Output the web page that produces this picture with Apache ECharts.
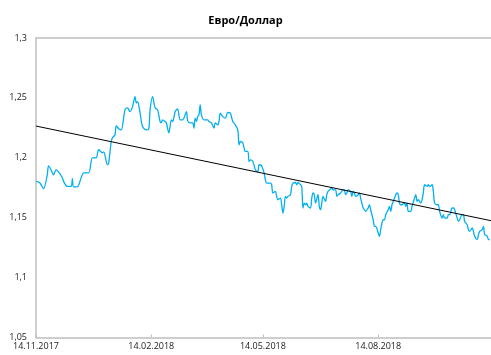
<!DOCTYPE html>
<html>
<head>
<meta charset="utf-8">
<script src="https://cdn.jsdelivr.net/npm/echarts@6/dist/echarts.min.js"></script>
<style>
  html, body { margin: 0; padding: 0; background: #fff; }
  #chart { width: 491px; height: 355px; }
</style>
</head>
<body>
<div id="chart"></div>
<script>
// EUR/USD daily rate, days counted from 14.11.2017
const startDate = new Date(2017, 10, 14);
const dayOffsets = [
  0, 3, 6, 9, 10, 12, 14, 16, 18, 21, 22, 25, 28, 29, 30, 33, 36, 38, 42, 45,
  48, 50, 53, 54, 57, 58, 60, 61, 63, 64, 66, 68, 71, 73, 75, 77, 79, 80, 81, 83,
  85, 88, 90, 91, 93, 95, 97, 99, 100, 101, 103, 104, 106, 108, 109, 111, 112, 113, 115, 117,
  120, 121, 123, 125, 126, 127, 128, 129, 130, 131, 132, 134, 137, 138, 140, 142, 143, 145, 146, 147,
  149, 151, 153, 155, 157, 159, 161, 162, 163, 165, 167, 169, 170, 171, 173, 175, 177, 178, 180, 182,
  183, 184, 187, 188, 189, 191, 192, 193, 195, 196, 197, 198, 199, 200, 201, 203, 204, 205, 207, 208,
  209, 211, 212, 213, 214, 215, 216, 217, 219, 220, 221, 222, 223, 225, 226, 227, 228, 229, 231, 232,
  233, 235, 236, 237, 239, 240, 241, 243, 245, 246, 247, 248, 249, 251, 252, 253, 254, 255, 257, 258,
  259, 261, 262, 263, 265, 266, 267, 269, 270, 271, 273, 274, 275, 277, 278, 279, 281, 282, 283, 284,
  285, 286, 288, 289, 290, 291, 292, 294, 295, 296, 297, 299, 300, 302, 303, 304, 305, 307, 308, 309,
  310, 312, 313, 314, 316, 317, 318, 320, 321, 322, 324, 325, 326, 328, 329, 330, 332, 333, 334, 336,
  337, 338, 340, 341, 342, 344, 345, 346, 348, 349, 350, 352, 353, 354, 356, 357, 358, 360, 361, 362
];
const eurUsd = [
  1.1803, 1.1792, 1.1742, 1.1858, 1.1933, 1.1900, 1.1858, 1.1900, 1.1883, 1.1833, 1.1803, 1.1761, 1.1761, 1.1825, 1.1758, 1.1758, 1.1833, 1.1875, 1.1875, 1.2000,
  1.2000, 1.2067, 1.2042, 1.2050, 1.1942, 1.1958, 1.2136, 1.2167, 1.2192, 1.2267, 1.2242, 1.2233, 1.2400, 1.2417, 1.2386, 1.2425, 1.2511, 1.2458, 1.2469, 1.2375,
  1.2261, 1.2233, 1.2242, 1.2400, 1.2511, 1.2417, 1.2400, 1.2303, 1.2292, 1.2317, 1.2303, 1.2292, 1.2208, 1.2317, 1.2303, 1.2386, 1.2400, 1.2408, 1.2317, 1.2317,
  1.2386, 1.2308, 1.2292, 1.2292, 1.2248, 1.2331, 1.2303, 1.2344, 1.2358, 1.2442, 1.2358, 1.2317, 1.2317, 1.2303, 1.2292, 1.2248, 1.2292, 1.2275, 1.2303, 1.2373,
  1.2344, 1.2331, 1.2378, 1.2373, 1.2303, 1.2275, 1.2233, 1.2108, 1.2136, 1.2123, 1.2053, 1.2053, 1.1969, 1.1983, 1.1969, 1.1900, 1.1886, 1.1942, 1.1933, 1.1872,
  1.1817, 1.1789, 1.1789, 1.1775, 1.1706, 1.1719, 1.1678, 1.1650, 1.1664, 1.1608, 1.1539, 1.1594, 1.1678, 1.1664, 1.1678, 1.1692, 1.1761, 1.1789, 1.1794, 1.1775,
  1.1794, 1.1775, 1.1761, 1.1581, 1.1622, 1.1608, 1.1622, 1.1594, 1.1581, 1.1664, 1.1706, 1.1692, 1.1622, 1.1692, 1.1594, 1.1567, 1.1622, 1.1678, 1.1636, 1.1692,
  1.1719, 1.1739, 1.1747, 1.1733, 1.1733, 1.1678, 1.1692, 1.1706, 1.1733, 1.1733, 1.1692, 1.1706, 1.1733, 1.1719, 1.1678, 1.1719, 1.1706, 1.1678, 1.1692, 1.1706,
  1.1664, 1.1581, 1.1567, 1.1553, 1.1581, 1.1608, 1.1567, 1.1483, 1.1428, 1.1428, 1.1373, 1.1344, 1.1400, 1.1483, 1.1483, 1.1525, 1.1567, 1.1594, 1.1553, 1.1608,
  1.1636, 1.1664, 1.1706, 1.1692, 1.1622, 1.1608, 1.1608, 1.1622, 1.1594, 1.1622, 1.1553, 1.1553, 1.1594, 1.1664, 1.1692, 1.1636, 1.1650, 1.1622, 1.1650, 1.1706,
  1.1775, 1.1761, 1.1775, 1.1761, 1.1775, 1.1719, 1.1622, 1.1608, 1.1608, 1.1553, 1.1497, 1.1525, 1.1497, 1.1497, 1.1525, 1.1525, 1.1581, 1.1581, 1.1567, 1.1497,
  1.1469, 1.1483, 1.1525, 1.1525, 1.1469, 1.1442, 1.1400, 1.1386, 1.1414, 1.1386, 1.1344, 1.1317, 1.1358, 1.1386, 1.1400, 1.1428, 1.1358, 1.1347, 1.1317, 1.1317
];
// linear trend: value at first and last day of the axis
const trendDays = [0, 363];
const trendValues = [1.2265, 1.1475];
// x-axis tick days: 14.11.2017, 14.02.2018, 14.05.2018, 14.08.2018
const xTickDays = [0, 92, 181, 273];
const yTicks = [1.05, 1.1, 1.15, 1.2, 1.25, 1.3];

function dayLabel(d) {
  const t = new Date(startDate.getFullYear(), startDate.getMonth(), startDate.getDate() + Math.round(d));
  const p = n => (n < 10 ? '0' : '') + n;
  return p(t.getDate()) + '.' + p(t.getMonth() + 1) + '.' + t.getFullYear();
}

const lineData = dayOffsets.map((d, i) => [d, eurUsd[i]]);
const trendData = trendDays.map((d, i) => [d, trendValues[i]]);

const chart = echarts.init(document.getElementById('chart'), null, { renderer: 'canvas' });
const axisGrey = '#bfbfbf';
const font = '"Open Sans", "DejaVu Sans", sans-serif';

chart.setOption({
  animation: false,
  backgroundColor: '#ffffff',
  title: {
    text: 'Евро/Доллар',
    left: 'center',
    top: 10,
    textStyle: { fontFamily: font, fontSize: 11, fontWeight: 'bold', color: '#000' }
  },
  grid: { left: 36, right: 0, top: 38, bottom: 17.5, containLabel: false },
  xAxis: [{
    type: 'value',
    min: 0,
    max: 363,
    splitLine: { show: false },
    axisLine: { show: true, lineStyle: { color: axisGrey, width: 1.5 } },
    axisTick: { show: true, inside: true, length: 3, customValues: xTickDays, lineStyle: { color: axisGrey } },
    axisLabel: {
      customValues: xTickDays,
      formatter: v => dayLabel(v),
      fontFamily: font, fontSize: 9, color: '#222', margin: 4
    }
  }, {
    type: 'value',
    position: 'top',
    min: 0,
    max: 363,
    splitLine: { show: false },
    axisLine: { show: true, lineStyle: { color: axisGrey, width: 1.5 } },
    axisTick: { show: false },
    axisLabel: { show: false }
  }],
  yAxis: {
    type: 'value',
    min: 1.05,
    max: 1.3,
    interval: 0.05,
    splitLine: { show: false },
    axisLine: { show: true, lineStyle: { color: axisGrey, width: 1.5 } },
    axisTick: { show: false },
    axisLabel: {
      formatter: v => String(Number(v.toFixed(2))).replace('.', ','),
      fontFamily: font, fontSize: 9, color: '#222', margin: 9
    }
  },
  series: [{
    name: 'EUR/USD',
    type: 'line',
    data: lineData,
    showSymbol: false,
    smooth: 0.3,
    lineStyle: { color: '#00b0f0', width: 1.3 },
    itemStyle: { color: '#00b0f0' },
    z: 2
  }, {
    name: 'Trend',
    type: 'line',
    data: trendData,
    showSymbol: false,
    lineStyle: { color: '#000000', width: 1 },
    itemStyle: { color: '#000000' },
    z: 3
  }]
});
</script>
</body>
</html>
